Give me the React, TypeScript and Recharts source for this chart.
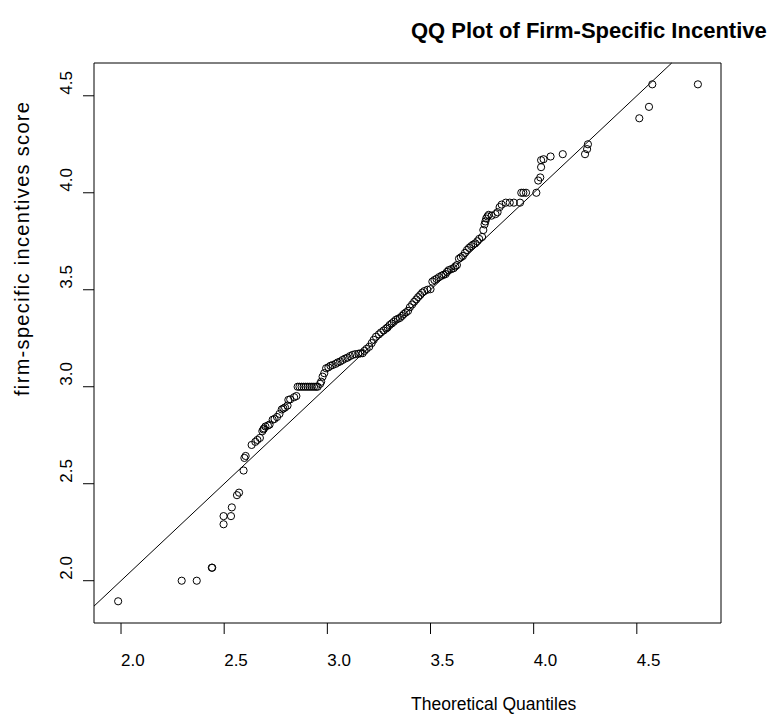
import React from "react";
import { ScatterChart, Scatter, XAxis, YAxis, ReferenceLine, ReferenceArea } from "recharts";

const theoretical = [
  1.986, 2.294, 2.367, 2.44, 2.442, 2.497, 2.497, 2.533, 2.537, 2.562, 2.572, 2.594, 2.598, 2.604,
  2.633, 2.651, 2.661, 2.673, 2.685, 2.69, 2.693, 2.7, 2.712, 2.72, 2.735, 2.744, 2.756, 2.768,
  2.779, 2.787, 2.795, 2.807, 2.811, 2.82, 2.839, 2.85,
  2.856, 2.865, 2.875, 2.885, 2.895, 2.905, 2.915, 2.925, 2.935, 2.945, 2.953,
  2.965, 2.97, 2.977, 2.985, 2.994, 3.005, 3.015, 3.026, 3.04, 3.05, 3.062, 3.074, 3.086, 3.098,
  3.11, 3.122, 3.135, 3.15, 3.16, 3.171, 3.18, 3.19, 3.203, 3.215, 3.225, 3.236, 3.25, 3.26,
  3.273, 3.285, 3.292, 3.302, 3.312, 3.322, 3.332, 3.342, 3.352, 3.362, 3.371, 3.381, 3.391,
  3.4, 3.411, 3.421, 3.431, 3.44, 3.45, 3.46, 3.47, 3.485, 3.5, 3.509, 3.519, 3.529, 3.541,
  3.553, 3.563, 3.573, 3.58, 3.588, 3.6, 3.612, 3.62, 3.628, 3.638, 3.647, 3.657, 3.667, 3.677,
  3.687, 3.697, 3.707, 3.717, 3.727, 3.736, 3.75, 3.756, 3.762, 3.766, 3.77, 3.776, 3.782,
  3.796, 3.815, 3.825, 3.835, 3.845, 3.865, 3.884, 3.904, 3.934, 3.94, 3.95, 3.963, 4.013,
  4.022, 4.032, 4.036, 4.036, 4.048, 4.082, 4.141, 4.249, 4.259, 4.263, 4.512, 4.559, 4.575, 4.796,
];

const sample = [
  1.894, 2.0, 2.0, 2.067, 2.067, 2.291, 2.333, 2.333, 2.378, 2.441, 2.454, 2.568, 2.633, 2.643,
  2.7, 2.716, 2.726, 2.736, 2.771, 2.78, 2.785, 2.795, 2.8, 2.805, 2.83, 2.834, 2.844, 2.86,
  2.883, 2.888, 2.893, 2.903, 2.932, 2.935, 2.946, 2.952,
  3.0, 3.0, 3.0, 3.0, 3.0, 3.0, 3.0, 3.0, 3.0, 3.0, 3.0,
  3.015, 3.026, 3.052, 3.07, 3.095, 3.1, 3.108, 3.112, 3.118, 3.125, 3.13, 3.138, 3.145, 3.15,
  3.158, 3.164, 3.168, 3.17, 3.172, 3.173, 3.185, 3.195, 3.206, 3.225, 3.242, 3.258, 3.27, 3.28,
  3.29, 3.3, 3.306, 3.318, 3.326, 3.335, 3.345, 3.35, 3.355, 3.365, 3.375, 3.383, 3.391,
  3.41, 3.424, 3.438, 3.45, 3.462, 3.473, 3.485, 3.493, 3.5, 3.503, 3.542, 3.55, 3.556, 3.565,
  3.572, 3.577, 3.581, 3.592, 3.601, 3.606, 3.611, 3.62, 3.627, 3.66, 3.667, 3.674, 3.69, 3.705,
  3.716, 3.725, 3.733, 3.739, 3.75, 3.762, 3.772, 3.808, 3.837, 3.852, 3.867, 3.878, 3.886,
  3.882, 3.89, 3.9, 3.926, 3.939, 3.949, 3.949, 3.949, 3.949, 4.0, 4.0, 4.0, 4.0,
  4.063, 4.079, 4.132, 4.168, 4.173, 4.187, 4.199, 4.199, 4.225, 4.25, 4.384, 4.443, 4.559, 4.559,
];

const xTicks = [2.0, 2.5, 3.0, 3.5, 4.0, 4.5];
const yTicks = [2.0, 2.5, 3.0, 3.5, 4.0, 4.5];
const xDomain = [1.869, 4.908];
const yDomain = [1.782, 4.669];
const lineStart = 1.869;
const lineEnd = 4.669;

const title = "QQ Plot of Firm-Specific Incentive";
const xLabel = "Theoretical Quantiles";
const yLabel = "firm-specific incentives score";

const FONT = "'Liberation Sans', Arial, sans-serif";

const data = theoretical.map((x, i) => ({ x, y: sample[i] }));

const XTick = (props: any) => {
  const { x, y, payload } = props;
  return (
    <text x={x} y={y + 32} textAnchor="start" fontSize={17} fontFamily={FONT} fill="#000">
      {Number(payload.value).toFixed(1)}
    </text>
  );
};

const YTick = (props: any) => {
  const { y, payload } = props;
  const bx = 72;
  const by = y - 1;
  return (
    <text
      x={bx}
      y={by}
      transform={`rotate(-90, ${bx}, ${by})`}
      textAnchor="start"
      fontSize={17}
      fontFamily={FONT}
      fill="#000"
    >
      {Number(payload.value).toFixed(1)}
    </text>
  );
};

const Circle = (props: any) => (
  <circle cx={props.cx} cy={props.cy} r={3.6} fill="none" stroke="#000" strokeWidth={1} />
);

export default function App() {
  return (
    <div style={{ position: "absolute", left: 0, top: 0, width: 775, height: 717, background: "#fff" }}>
      <ScatterChart
        width={775}
        height={717}
        margin={{ top: 63, right: 54, bottom: 0, left: 0 }}
      >
        <XAxis
          type="number"
          dataKey="x"
          domain={xDomain}
          ticks={xTicks}
          allowDataOverflow
          axisLine={false}
          tickLine={{ stroke: "#000" }}
          tickSize={11}
          tickMargin={0}
          height={94}
          tick={<XTick />}
          interval={0}
          label={{
            content: () => (
              <text x={411} y={710} textAnchor="start" fontSize={17.5} fontFamily={FONT} fill="#000">
                {xLabel}
              </text>
            ),
          }}
        />
        <YAxis
          type="number"
          dataKey="y"
          domain={yDomain}
          ticks={yTicks}
          allowDataOverflow
          axisLine={false}
          tickLine={{ stroke: "#000" }}
          tickSize={11}
          tickMargin={0}
          width={94}
          tick={<YTick />}
          interval={0}
          label={{
            content: () => (
              <text
                x={29}
                y={396}
                transform="rotate(-90, 29, 396)"
                textAnchor="start"
                fontSize={20}
                textLength={294}
                lengthAdjust="spacing"
                fontFamily={FONT}
                fill="#000"
              >
                {yLabel}
              </text>
            ),
          }}
        />
        <ReferenceArea
          x1={xDomain[0]}
          x2={xDomain[1]}
          y1={yDomain[0]}
          y2={yDomain[1]}
          fill="none"
          fillOpacity={0}
          stroke="#000"
          strokeWidth={1}
          ifOverflow="visible"
        />
        <ReferenceLine
          segment={[
            { x: lineStart, y: lineStart },
            { x: lineEnd, y: lineEnd },
          ]}
          stroke="#000"
          strokeWidth={1}
          ifOverflow="visible"
        />
        <Scatter data={data} shape={<Circle />} isAnimationActive={false} />
      </ScatterChart>
      <svg
        width={775}
        height={60}
        style={{ position: "absolute", left: 0, top: 0, overflow: "hidden" }}
      >
        <text x={411} y={38} textAnchor="start" fontSize={22} fontWeight="bold" fontFamily={FONT} fill="#000">
          {title}
        </text>
      </svg>
    </div>
  );
}
